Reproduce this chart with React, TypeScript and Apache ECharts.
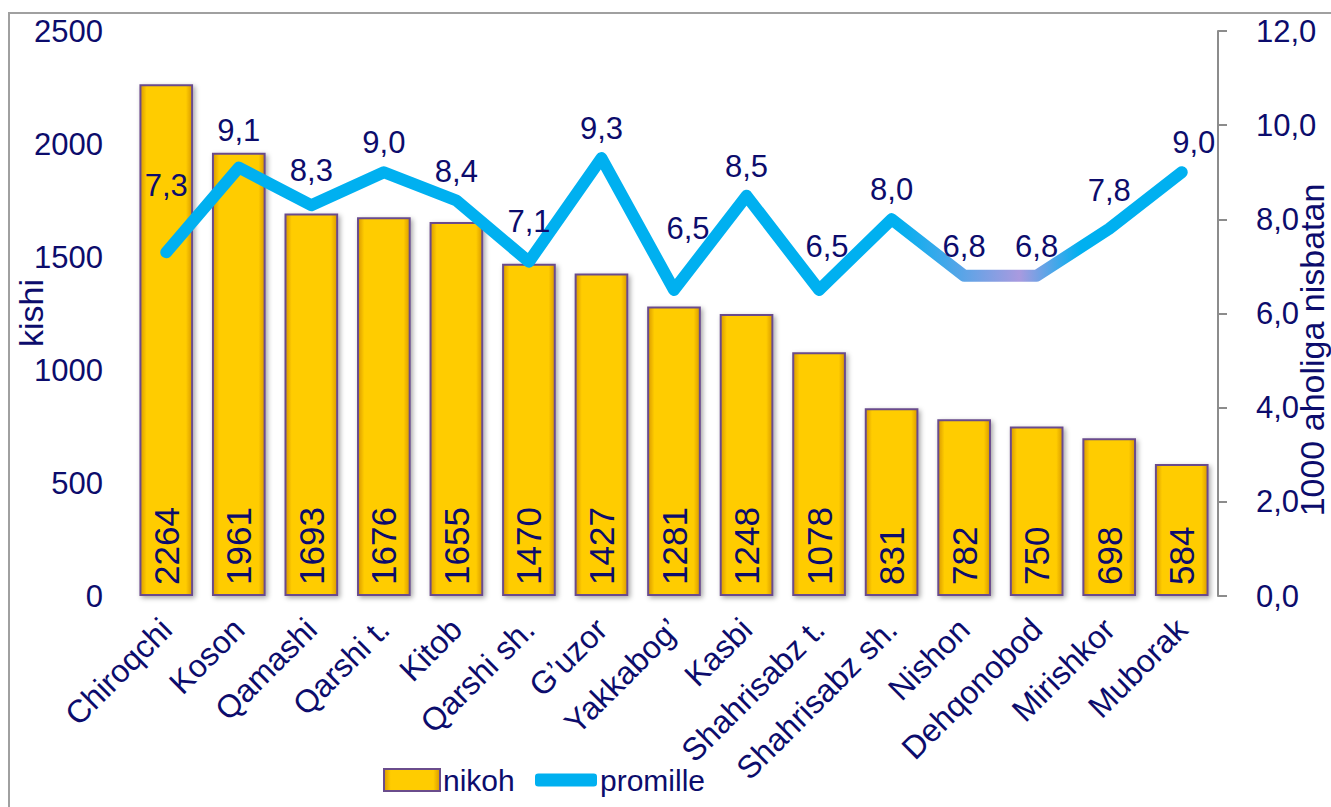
import React, { useEffect, useRef } from "react";
import * as echarts from "echarts";

const categories = [
  "Chiroqchi", "Koson", "Qamashi", "Qarshi t.", "Kitob", "Qarshi sh.", "G\u2019uzor",
  "Yakkabog\u2019", "Kasbi", "Shahrisabz t.", "Shahrisabz sh.", "Nishon",
  "Dehqonobod", "Mirishkor", "Muborak",
];
const nikoh = [2264, 1961, 1693, 1676, 1655, 1470, 1427, 1281, 1248, 1078, 831, 782, 750, 698, 584];
const promille = [7.3, 9.1, 8.3, 9.0, 8.4, 7.1, 9.3, 6.5, 8.5, 6.5, 8.0, 6.8, 6.8, 7.8, 9.0];
const leftTicks = { min: 0, max: 2500, interval: 500 };
const rightTicks = { min: 0, max: 12, interval: 2 };
const leftName = "kishi";
const rightName = "1000 aholiga nisbatan";

const NAVY = "#0C0C6C";
const CYAN = "#00B0F0";
const FONT = "'Liberation Sans', Arial, sans-serif";
const comma = (v: number) => v.toFixed(1).replace(".", ",");

// label placement tweaks (distance above the point, px) for a few labels
const labelDistance: Record<number, number> = { 0: 45, 1: 16, 2: 13, 5: 19, 7: 40, 9: 22, 13: 17 };
const labelShiftX: Record<number, number> = { 7: 14, 9: 8, 14: 12 };

export default function App() {
  const ref = useRef<HTMLDivElement>(null);
  useEffect(() => {
    if (!ref.current) return;
    const chart = echarts.init(ref.current, null, { renderer: "svg" });
    const barColor = new echarts.graphic.LinearGradient(0, 0, 1, 0, [
      { offset: 0, color: "#D99A00" },
      { offset: 0.12, color: "#FFCC00" },
      { offset: 0.88, color: "#FFCC00" },
      { offset: 1, color: "#D99A00" },
    ]);
    const lineColor = new echarts.graphic.LinearGradient(0, 0, 1, 0, [
      { offset: 0, color: CYAN },
      { offset: 0.72, color: CYAN },
      { offset: 0.84, color: "#A99ADF" },
      { offset: 0.9, color: CYAN },
      { offset: 1, color: CYAN },
    ]);
    chart.setOption({
      animation: false,
      textStyle: { fontFamily: FONT, color: NAVY },
      grid: { left: 130, right: 113, top: 31, bottom: 211 },
      legend: [
        {
          data: [{ name: "nikoh", icon: "rect" }],
          left: 378,
          top: 760,
          itemWidth: 56,
          itemHeight: 22,
          itemGap: 4,
          textStyle: { fontSize: 30, color: NAVY, fontFamily: FONT, padding: [0, 0, 0, -2] },
        },
        {
          data: [
            {
              name: "promille",
              icon: "roundRect",
              itemStyle: { color: CYAN, opacity: 1, borderWidth: 0 },
            },
          ],
          left: 530,
          top: 760,
          itemWidth: 62,
          itemHeight: 13,
          textStyle: { fontSize: 30, color: NAVY, fontFamily: FONT, padding: [0, 0, 0, -2] },
        },
      ],
      xAxis: {
        type: "category",
        data: categories,
        axisLine: { show: false },
        axisTick: { show: false },
        axisLabel: {
          rotate: 45,
          interval: 0,
          margin: 28,
          fontSize: 32,
          color: NAVY,
          fontFamily: FONT,
        },
      },
      yAxis: [
        {
          type: "value",
          min: leftTicks.min,
          max: leftTicks.max,
          interval: leftTicks.interval,
          axisLine: { show: false },
          axisTick: { show: false },
          splitLine: { show: false },
          axisLabel: {
            fontSize: 31,
            color: NAVY,
            fontFamily: FONT,
            margin: 27,
            formatter: (v: number) => String(v),
          },
        },
        {
          type: "value",
          position: "right",
          min: rightTicks.min,
          max: rightTicks.max,
          interval: rightTicks.interval,
          axisLine: { show: true, lineStyle: { color: "#8C8C8C", width: 2 } },
          axisTick: { show: true, length: 9, lineStyle: { color: "#8C8C8C", width: 2 } },
          splitLine: { show: false },
          axisLabel: {
            fontSize: 31,
            color: NAVY,
            fontFamily: FONT,
            margin: 38,
            formatter: (v: number) => comma(v),
          },
        },
      ],
      series: [
        {
          name: "nikoh",
          type: "bar",
          data: nikoh,
          barWidth: "74%",
          itemStyle: {
            color: barColor,
            borderColor: "#6A4C8C",
            borderWidth: 2,
            shadowColor: "rgba(0,0,0,0.35)",
            shadowBlur: 5,
            shadowOffsetX: 2,
            shadowOffsetY: 2,
          },
          label: {
            show: true,
            position: "insideBottom",
            rotate: 90,
            align: "left",
            verticalAlign: "middle",
            distance: 11,
            fontSize: 35,
            color: NAVY,
            fontFamily: FONT,
          },
        },
        {
          name: "promille",
          type: "line",
          yAxisIndex: 1,
          data: promille.map((v, i) => ({
            value: v,
            label: {
              distance: labelDistance[i] ?? 8,
              offset: [labelShiftX[i] ?? 0, 0],
            },
          })),
          symbol: "circle",
          symbolSize: 12,
          showSymbol: true,
          itemStyle: { color: "rgba(0,0,0,0)", borderWidth: 0 },
          lineStyle: { color: lineColor, width: 12, cap: "round", join: "round" },
          label: {
            show: true,
            position: "top",
            fontSize: 31,
            color: NAVY,
            fontFamily: FONT,
            formatter: (p: any) => comma(p.value),
          },
        },
      ],
      graphic: [
        {
          type: "rect",
          shape: { x: 9, y: 13, width: 1340, height: 820 },
          style: { fill: "none", stroke: "#A0A0A0", lineWidth: 2 },
          silent: true,
        },
        {
          type: "text",
          x: 31,
          y: 313,
          rotation: Math.PI / 2,
          style: {
            text: leftName,
            fontSize: 34,
            fill: NAVY,
            fontFamily: FONT,
            align: "center",
            verticalAlign: "middle",
          },
        },
        {
          type: "text",
          x: 1312,
          y: 350,
          rotation: Math.PI / 2,
          style: {
            text: rightName,
            fontSize: 34,
            fill: NAVY,
            fontFamily: FONT,
            align: "center",
            verticalAlign: "middle",
          },
        },
      ],
    });
    return () => chart.dispose();
  }, []);
  return (
    <div
      ref={ref}
      style={{ position: "fixed", left: 0, top: 0, width: 1331, height: 807, background: "#fff" }}
    />
  );
}
